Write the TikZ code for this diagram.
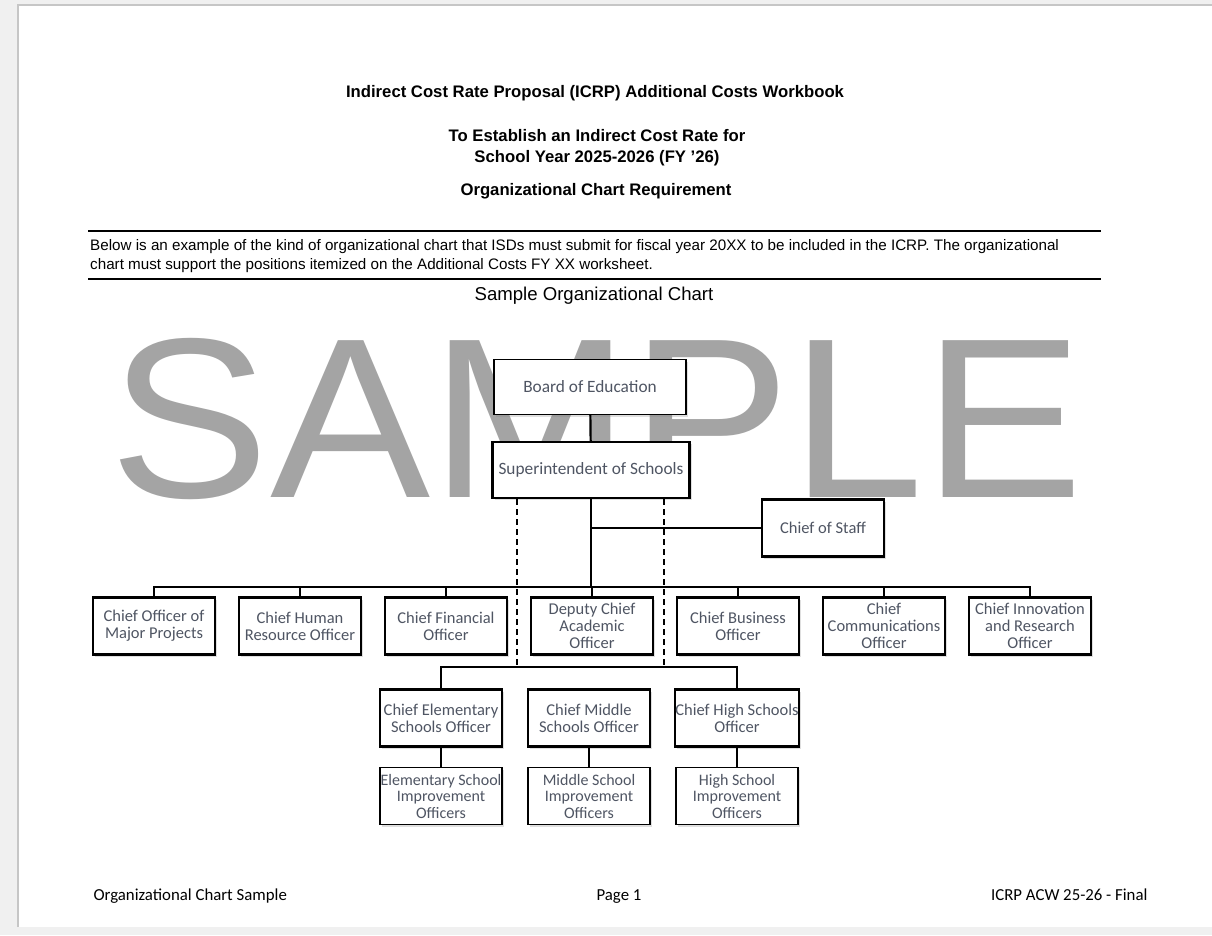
\documentclass[tikz,border=0pt]{standalone}
\usepackage{fontspec}
\setmainfont{Liberation Sans}
\newfontfamily\calibri{Carlito}
\usetikzlibrary{shadows}
\definecolor{wmgray}{HTML}{A4A4A4}
\definecolor{boxtext}{HTML}{4F5563}

\begin{document}
\begin{tikzpicture}[
        x=1pt, y=-1pt,                % pixel grid of the page
        node distance=146pt,
        box/.style={
            rectangle,
            draw,
            fill=white,
            align=center,
            inner sep=0.5pt,
            minimum width=122pt,
            minimum height=57pt,
            text=boxtext,
            font=\calibri\fontsize{16.5}{17}\selectfont,
            line width=1.2pt,
            drop shadow={opacity=0.25, shadow xshift=2pt, shadow yshift=-2pt}
        },
        thickbox/.style={box, line width=2.4pt},
        smallbox/.style={box, font=\calibri\fontsize{16}{16.5}\selectfont},
        bigbox/.style={font=\calibri\fontsize{17.3}{17}\selectfont},
        link/.style={line width=1.4pt},
        mainlink/.style={line width=2.2pt},
        dashlink/.style={line width=2pt, dash pattern=on 6pt off 4pt},
        head/.style={font=\bfseries\fontsize{16.7}{19}\selectfont},
        note/.style={anchor=base west, inner sep=0pt, font=\fontsize{15.2}{17}\selectfont},
        foot/.style={font=\calibri\fontsize{16.8}{19}\selectfont, anchor=base}
    ]
        \useasboundingbox (0,0) rectangle (1212,935);
        % page
        \fill[gray!12] (0,0) rectangle (1212,935);
        \fill[white] (18,5) rectangle (1212,927);
        \draw[gray!45, line width=1.5pt] (18,927) -- (18,5) -- (1212,5);

        % heading
        \node[head] (title) at (595,93) {Indirect Cost Rate Proposal (ICRP) Additional Costs Workbook};
        \node[head] (estab) at (597,136) {To Establish an Indirect Cost Rate for};
        \node[head] (year) at (597,158) {School Year 2025-2026 (FY '26)};
        \node[head] (req) at (596,191) {Organizational Chart Requirement};
        \draw[line width=2.8pt] (88,231) -- (1101,231);
        \node[note] (note1) at (90,250)
            {Below is an example of the kind of organizational chart that ISDs must submit for fiscal year 20XX to be included in the ICRP. The organizational};
        \node[note] (note2) at (90,269)
            {chart must support the positions itemized on the Additional Costs FY XX worksheet.};
        \draw[line width=2.8pt] (88,279) -- (1101,279);
        \node[font=\fontsize{18.6}{21}\selectfont] (sample) at (594,296) {Sample Organizational Chart};

        % watermark
        \node[anchor=base, inner sep=0pt, text=wmgray, font=\fontsize{228}{228}\selectfont] (wm) at (597,497)
            {\scalebox{1.053}[1]{SAMPLE}};

        % nodes
        \node[box, bigbox, minimum width=192pt, minimum height=55pt] (board) at (590,387) {Board of Education};
        \node[thickbox, bigbox, minimum width=197pt, minimum height=56pt] (super) at (591,470) {Superintendent of Schools};
        \node[thickbox] (staff) at (823,528) {Chief of Staff};

        \node[thickbox] (c1) at (154,626) {Chief Officer of\\Major Projects};
        \node[thickbox] (c2) [right of=c1] {Chief Human\\Resource Officer};
        \node[thickbox] (c3) [right of=c2] {Chief Financial\\Officer};
        \node[thickbox] (c4) [right of=c3] {Deputy Chief\\Academic\\Officer};
        \node[thickbox] (c5) [right of=c4] {Chief Business\\Officer};
        \node[thickbox] (c6) [right of=c5] {Chief\\Communications\\Officer};
        \node[thickbox] (c7) [right of=c6] {Chief Innovation\\and Research\\Officer};

        \node[thickbox] (e1) at (441,718) {Chief Elementary\\Schools Officer};
        \node[thickbox] (e2) [right of=e1, node distance=148pt] {Chief Middle\\Schools Officer};
        \node[thickbox] (e3) [right of=e2, node distance=148pt] {Chief High Schools\\Officer};

        \node[smallbox] (i1) [below of=e1, node distance=78pt] {Elementary School\\Improvement\\Officers};
        \node[smallbox] (i2) [below of=e2, node distance=78pt] {Middle School\\Improvement\\Officers};
        \node[smallbox] (i3) [below of=e3, node distance=78pt] {High School\\Improvement\\Officers};

        % edges
        \coordinate (bus) at (591,587);
        \coordinate (lowbus) at (591,667);
        \coordinate (d1) at (517,667);
        \coordinate (d2) at (664,667);
        \draw[mainlink] (board) -- (super);
        \draw[mainlink] (super.south) -- (bus);
        \draw[link] (super.south |- staff) -- (staff.west);
        \draw[link] (c1.north) |- (bus) -| (c7.north);
        \foreach \n in {c2,c3,c4,c5,c6}
            \draw[link] (\n.north) -- (\n.north |- bus);
        \draw[dashlink] (super.south -| d1) -- (d1);
        \draw[dashlink] (super.south -| d2) -- (d2);
        \draw[mainlink] (e1.north) |- (lowbus) -| (e3.north);
        \foreach \n in {1,2,3}
            \draw[link] (e\n) -- (i\n);

        % footer
        \node[foot, anchor=base west] (fleft) at (90,900) {Organizational Chart Sample};
        \node[foot] (fmid) at (619,900) {Page 1};
        \node[foot, anchor=base east] (fright) at (1151,900) {ICRP ACW 25-26 - Final};
    \end{tikzpicture}
\end{document}
